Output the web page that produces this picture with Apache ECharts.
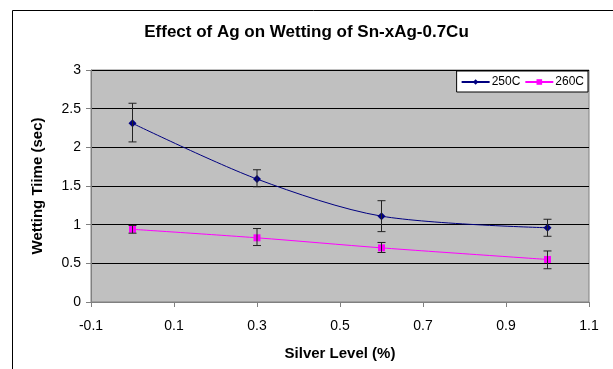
<!DOCTYPE html>
<html>
<head>
<meta charset="utf-8">
<script src="https://cdn.jsdelivr.net/npm/echarts@6/dist/echarts.min.js"></script>
<style>
  html, body { margin: 0; padding: 0; background: #fff; }
  #chart { width: 613px; height: 369px; }
</style>
</head>
<body>
<div id="chart"></div>
<script>
// Silver content (%) of the Sn-xAg-0.7Cu alloys
const silverLevels = [0, 0.3, 0.6, 1.0];

// Mean wetting times (sec) and their error-bar limits
const wet250 = [2.31, 1.59, 1.11, 0.96];
const wet250Low = [2.07, 1.49, 0.91, 0.85];
const wet250High = [2.57, 1.71, 1.31, 1.07];

const wet260 = [0.94, 0.83, 0.70, 0.55];
const wet260Low = [0.89, 0.73, 0.64, 0.43];
const wet260High = [0.99, 0.95, 0.77, 0.66];

const seriesNames = ['250C', '260C'];

const FONT = 'Liberation Sans, Arial, sans-serif';

function pairs(xs, ys) {
  return xs.map((x, i) => [x, ys[i]]);
}

function errorBars(xs, lows, highs) {
  return xs.map((x, i) => [x, lows[i], highs[i]]);
}

function renderErrorBar(params, api) {
  const x = api.value(0);
  const lo = api.coord([x, api.value(1)]);
  const hi = api.coord([x, api.value(2)]);
  const cap = 4;
  const style = { stroke: '#222', lineWidth: 1, fill: null };
  return {
    type: 'group',
    children: [
      { type: 'line', shape: { x1: lo[0], y1: lo[1], x2: hi[0], y2: hi[1] }, style },
      { type: 'line', shape: { x1: lo[0] - cap, y1: lo[1], x2: lo[0] + cap, y2: lo[1] }, style },
      { type: 'line', shape: { x1: hi[0] - cap, y1: hi[1], x2: hi[0] + cap, y2: hi[1] }, style }
    ]
  };
}

const chart = echarts.init(document.getElementById('chart'), null, { renderer: 'canvas' });

chart.setOption({
  animation: false,
  backgroundColor: '#fff',
  textStyle: { fontFamily: FONT },
  title: {
    text: 'Effect of Ag on Wetting of Sn-xAg-0.7Cu',
    left: 'center',
    top: 19,
    textStyle: { fontFamily: FONT, fontSize: 17, fontWeight: 'bold', color: '#000' }
  },
  graphic: [
    {
      type: 'rect',
      shape: { x: 12.5, y: 10.5, width: 620, height: 380 },
      style: { fill: null, stroke: '#000', lineWidth: 1 },
      silent: true,
      z: -1
    }
  ],
  legend: {
    data: seriesNames,
    right: 25,
    top: 71,
    orient: 'horizontal',
    backgroundColor: '#fff',
    borderColor: '#000',
    borderWidth: 1,
    padding: [5, 4, 4, 4],
    itemGap: 4,
    itemWidth: 28,
    itemHeight: 7,
    textStyle: { fontFamily: FONT, fontSize: 12, color: '#000', padding: [0, 0, 0, -3] }
  },
  grid: {
    left: 91,
    right: 24,
    top: 70,
    bottom: 67,
    show: true,
    backgroundColor: '#C0C0C0',
    borderColor: '#808080',
    borderWidth: 1
  },
  xAxis: {
    type: 'value',
    min: -0.1,
    max: 1.1,
    interval: 0.2,
    name: 'Silver Level (%)',
    nameLocation: 'middle',
    nameGap: 44,
    nameTextStyle: { fontFamily: FONT, fontSize: 15, fontWeight: 'bold', color: '#000' },
    axisLine: { onZero: false, lineStyle: { color: '#808080', width: 1 } },
    axisTick: { show: true, inside: false, length: 5, lineStyle: { color: '#808080' } },
    axisLabel: {
      fontFamily: FONT, fontSize: 14, color: '#000', margin: 17,
      formatter: v => (Math.round(v * 10) / 10).toString()
    },
    splitLine: { show: false }
  },
  yAxis: {
    type: 'value',
    min: 0,
    max: 3,
    interval: 0.5,
    name: 'Wetting Tiime (sec)',
    nameLocation: 'middle',
    nameGap: 46,
    nameTextStyle: { fontFamily: FONT, fontSize: 15, fontWeight: 'bold', color: '#000' },
    axisLine: { show: true, onZero: false, lineStyle: { color: '#808080', width: 1 } },
    axisTick: { show: true, length: 5, lineStyle: { color: '#808080' } },
    axisLabel: { fontFamily: FONT, fontSize: 14, color: '#000', margin: 10 },
    splitLine: { show: true, lineStyle: { color: '#000', width: 1 } }
  },
  series: [
    {
      name: seriesNames[0],
      type: 'line',
      data: pairs(silverLevels, wet250),
      smooth: 0.3,
      symbol: 'diamond',
      symbolSize: 8,
      itemStyle: { color: '#000080' },
      lineStyle: { color: '#000080', width: 1 },
      z: 3
    },
    {
      name: seriesNames[1],
      type: 'line',
      data: pairs(silverLevels, wet260),
      smooth: 0.3,
      symbol: 'rect',
      symbolSize: 7,
      itemStyle: { color: '#FF00FF' },
      lineStyle: { color: '#FF00FF', width: 1 },
      z: 3
    },
    {
      type: 'custom',
      renderItem: renderErrorBar,
      data: errorBars(silverLevels, wet250Low, wet250High),
      encode: { x: 0, y: [1, 2] },
      silent: true,
      z: 4
    },
    {
      type: 'custom',
      renderItem: renderErrorBar,
      data: errorBars(silverLevels, wet260Low, wet260High),
      encode: { x: 0, y: [1, 2] },
      silent: true,
      z: 4
    }
  ]
});
</script>
</body>
</html>
